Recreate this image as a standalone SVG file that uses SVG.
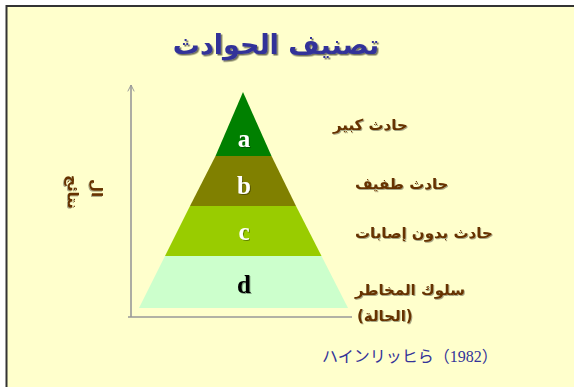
<svg xmlns="http://www.w3.org/2000/svg" width="574" height="387" viewBox="0 0 574 387">
  <defs>
    <filter id="sh" x="-10%" y="-20%" width="130%" height="150%">
      <feDropShadow dx="1.5" dy="1.5" stdDeviation="0.6" flood-color="#000000" flood-opacity="0.55"/>
    </filter>
    <filter id="sh2" x="-10%" y="-20%" width="130%" height="150%">
      <feDropShadow dx="1" dy="1" stdDeviation="0.5" flood-color="#000000" flood-opacity="0.35"/>
    </filter>
    <marker id="arr" viewBox="0 0 10 10" refX="9" refY="5" markerWidth="8" markerHeight="8" orient="auto" markerUnits="userSpaceOnUse">
      <path d="M1,1 L9,5 L1,9" fill="none" stroke="#999999" stroke-width="1.2"/>
    </marker>
    <style>
      .title{font-family:"DejaVu Sans","Noto Sans",sans-serif;font-size:27px;font-weight:bold;fill:#333399}
      .lbl{font-family:"DejaVu Sans","Noto Sans",sans-serif;font-size:15px;font-weight:bold;fill:#663300}
      .let{font-family:"Liberation Serif",serif;font-size:25px;font-weight:bold;text-anchor:middle}
      .axis{stroke:#999999;stroke-width:1.6;fill:none}
      .src{font-family:"Liberation Serif","Noto Sans CJK JP",serif;font-size:16px;fill:#333399}
    </style>
  </defs>
  <rect x="0" y="0" width="574" height="387" fill="#FFFFFF"/>
  <rect x="6.5" y="6" width="580" height="400" fill="#FFFFCC" stroke="#333333" stroke-width="2"/>

  <g id="title">
    <text class="title" x="276" y="54" text-anchor="middle" filter="url(#sh)">تصنيف الحوادث</text>
  </g>

  <g id="connectors">
    <line class="axis" x1="131" y1="317" x2="131" y2="85" marker-end="url(#arr)"/>
    <line class="axis" x1="128" y1="317" x2="352" y2="317"/>
  </g>

  <g id="yLabel">
    <text class="lbl" font-size="19" transform="translate(92,188) rotate(90)" text-anchor="middle" filter="url(#sh2)">ال</text>
    <text class="lbl" font-size="19" transform="translate(68,192) rotate(90)" text-anchor="middle" filter="url(#sh2)">نتائج</text>
  </g>

  <g id="band-a">
    <polygon points="243,92 271.5,156 215.5,156" fill="#008000"/>
    <text class="let" x="244" y="147" fill="#FFFFFF" filter="url(#sh2)">a</text>
  </g>
  <g id="band-b">
    <polygon points="215.5,156 271.5,156 296,206 190,206" fill="#808000"/>
    <text class="let" x="244" y="194" fill="#FFFFFF" filter="url(#sh2)">b</text>
  </g>
  <g id="band-c">
    <polygon points="190,206 296,206 321.5,256 165,256" fill="#99CC00"/>
    <text class="let" x="244" y="240" fill="#FFFFFF" filter="url(#sh2)">c</text>
  </g>
  <g id="band-d">
    <polygon points="165,256 321.5,256 348,308 139,308" fill="#CCFFCC"/>
    <text class="let" x="244" y="293" fill="#000000" filter="url(#sh2)">d</text>
  </g>

  <g id="label-a">
    <text class="lbl" x="333" y="130" filter="url(#sh2)">حادث كبير</text>
  </g>
  <g id="label-b">
    <text class="lbl" x="355" y="189" filter="url(#sh2)">حادث طفيف</text>
  </g>
  <g id="label-c">
    <text class="lbl" x="355" y="238" filter="url(#sh2)">حادث بدون إصابات</text>
  </g>
  <g id="label-d">
    <text class="lbl" x="355" y="295" filter="url(#sh2)">سلوك المخاطر</text>
    <text class="lbl" x="357" y="321" filter="url(#sh2)">(الحالة)</text>
  </g>

  <g id="source">
    <text class="src" x="322" y="362">ハインリッヒら（1982）</text>
  </g>
</svg>
